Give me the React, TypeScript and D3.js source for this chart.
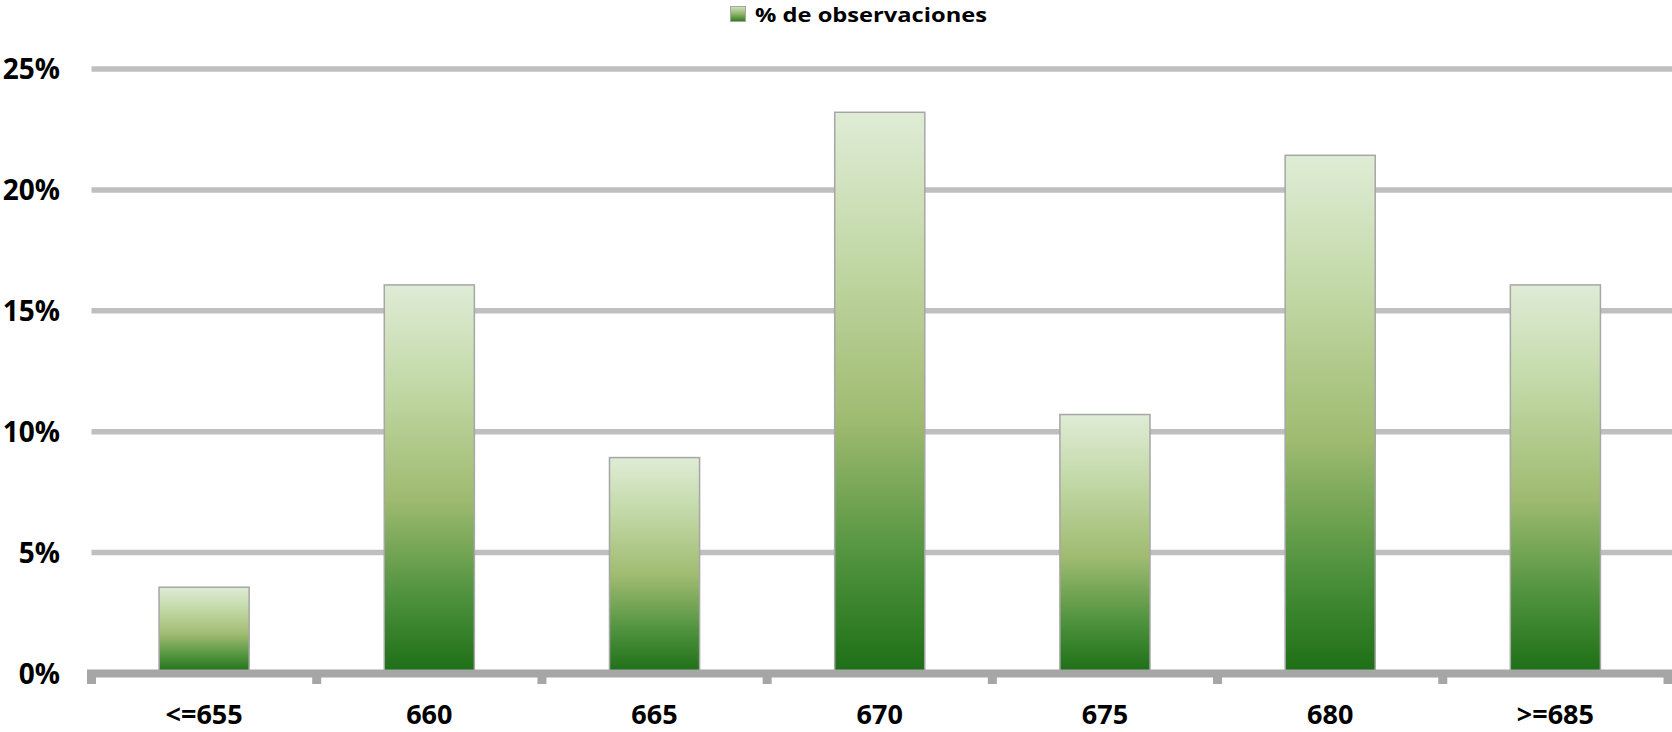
import React from "react";
import * as d3 from "d3";

const categories = ["<=655", "660", "665", "670", "675", "680", ">=685"];
const values = [3.57, 16.07, 8.93, 23.21, 10.71, 21.43, 16.07];
const yTicks = [0, 5, 10, 15, 20, 25];
const seriesName = "% de observaciones";

const W = 1672;
const H = 732;
const left = 91.5;
const right = 1668;
const zeroY = 673.5;
const topY = 69;
const font = "'Open Sans', 'DejaVu Sans', sans-serif";

export default function App() {
  const x = d3.scaleBand<string>().domain(categories).range([left, right]).paddingInner(0.6).paddingOuter(0.3);
  const xb = d3.scaleBand<string>().domain(categories).range([left, right]);
  const y = d3.scaleLinear().domain([0, 25]).range([zeroY, topY]);
  const boundaries = d3.range(categories.length + 1).map((i) => left + i * xb.step());

  return (
    <svg width={W} height={H} style={{ position: "absolute", left: 0, top: 0, background: "#fff" }}>
      <defs>
        <linearGradient id="barGrad" x1="0" y1="0" x2="0" y2="1">
          <stop offset="0" stopColor="#dfecd6" />
          <stop offset="0.25" stopColor="#c3d9a8" />
          <stop offset="0.55" stopColor="#9fbb70" />
          <stop offset="0.8" stopColor="#4f923d" />
          <stop offset="1" stopColor="#1c6e16" />
        </linearGradient>
        <linearGradient id="legGrad" x1="0" y1="0" x2="0" y2="1">
          <stop offset="0" stopColor="#cfe3bf" />
          <stop offset="0.5" stopColor="#8db566" />
          <stop offset="1" stopColor="#2a7a1f" />
        </linearGradient>
      </defs>
      {/* legend */}
      <rect x={730.5} y={6.5} width={15} height={15} fill="url(#legGrad)" stroke="#a6a6a6" strokeWidth={1} />
      <text x={755} y={22} fontFamily={font} fontWeight="bold" fontSize={20} fill="#000" textLength={232} lengthAdjust="spacingAndGlyphs">
        {seriesName}
      </text>
      {/* gridlines */}
      {yTicks.filter((t) => t > 0).map((t) => (
        <line key={t} x1={left} x2={W} y1={y(t)} y2={y(t)} stroke="#bfbfbf" strokeWidth={5.5} />
      ))}
      {/* y labels */}
      {yTicks.map((t) => (
        <text key={t} x={60} y={y(t)} dy="0.36em" textAnchor="end" fontFamily={font} fontWeight="bold" fontSize={28} fill="#000">
          {t + "%"}
        </text>
      ))}
      {/* bars */}
      {categories.map((c, i) => (
        <rect
          key={c}
          x={x(c)}
          y={y(values[i])}
          width={x.bandwidth()}
          height={zeroY - y(values[i])}
          fill="url(#barGrad)"
          stroke="#a6a6a6"
          strokeWidth={1.5}
        />
      ))}
      {/* axis */}
      <line x1={87} x2={W} y1={zeroY} y2={zeroY} stroke="#a6a6a6" strokeWidth={8} />
      {boundaries.map((b, i) => (
        <line key={i} x1={b} x2={b} y1={zeroY} y2={684} stroke="#a6a6a6" strokeWidth={9} />
      ))}
      {/* x labels */}
      {categories.map((c) => (
        <text key={c} x={(xb(c) as number) + xb.bandwidth() / 2} y={724} textAnchor="middle" fontFamily={font} fontWeight="bold" fontSize={27} fill="#000">
          {c}
        </text>
      ))}
    </svg>
  );
}
